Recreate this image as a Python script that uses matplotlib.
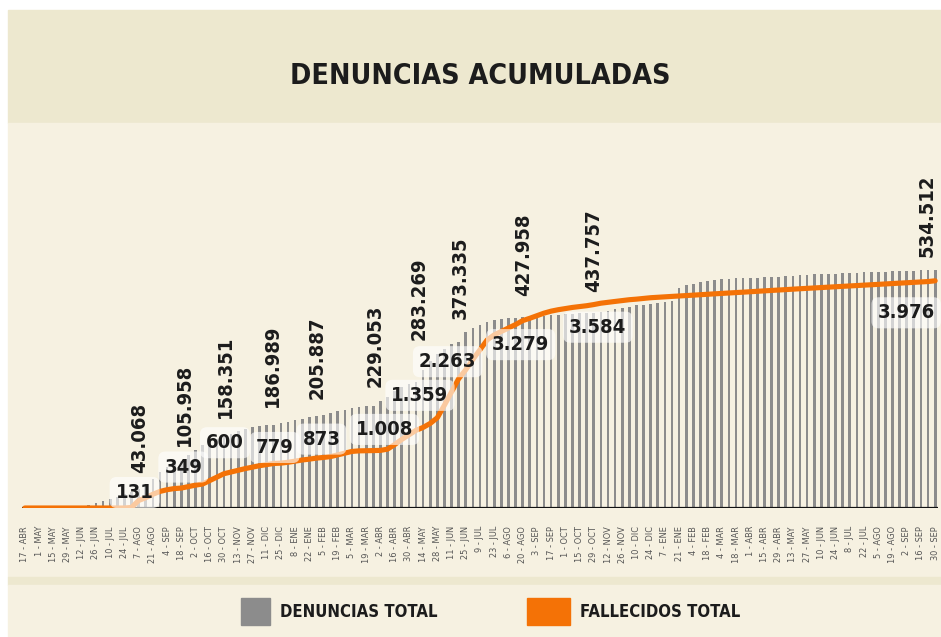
import matplotlib
matplotlib.use('Agg')
import matplotlib.pyplot as plt
import matplotlib.font_manager as fm
from matplotlib.font_manager import FontProperties
from matplotlib.patches import Rectangle
import numpy as np

# tick labels every second week (weekly data, 17-ABR-2020 .. 30-SEP-2022)
tick_labels = ['17 - ABR', '1 - MAY', '15 - MAY', '29 - MAY', '12 - JUN', '26 - JUN', '10 - JUL', '24 - JUL',
               '7 - AGO', '21 - AGO', '4 - SEP', '18 - SEP', '2 - OCT', '16 - OCT', '30 - OCT', '13 - NOV',
               '27 - NOV', '11 - DIC', '25 - DIC', '8 - ENE', '22 - ENE', '5 - FEB', '19 - FEB', '5 - MAR',
               '19 - MAR', '2 - ABR', '16 - ABR', '30 - ABR', '14 - MAY', '28 - MAY', '11 - JUN', '25 - JUN',
               '9 - JUL', '23 - JUL', '6 - AGO', '20 - AGO', '3 - SEP', '17 - SEP', '1 - OCT', '15 - OCT',
               '29 - OCT', '12 - NOV', '26 - NOV', '10 - DIC', '24 - DIC', '7 - ENE', '21 - ENE', '4 - FEB',
               '18 - FEB', '4 - MAR', '18 - MAR', '1 - ABR', '15 - ABR', '29 - ABR', '13 - MAY', '27 - MAY',
               '10 - JUN', '24 - JUN', '8 - JUL', '22 - JUL', '5 - AGO', '19 - AGO', '2 - SEP', '16 - SEP',
               '30 - SEP']

denuncias = [0, 0, 0, 0, 0, 0, 0, 0, 0, 6700,
             11200, 15700, 20200, 24700, 31400, 37000, 43068, 51000, 66000, 81000,
             92000, 100000, 105958, 118000, 130000, 141000, 149000, 154000, 158351, 166000,
             173000, 178000, 182000, 184000, 185500, 186989, 190000, 194000, 198000, 201000,
             203500, 205887, 210000, 214000, 218000, 221000, 224000, 226000, 228000, 229053,
             240000, 250000, 262000, 272000, 279000, 283269, 310000, 330000, 345000, 358000,
             368000, 373335, 395000, 405000, 412000, 418000, 422000, 425000, 426500, 427500,
             427958, 429500, 431000, 432000, 433000, 434000, 435000, 436000, 437000, 437500,
             437757, 440000, 443000, 446000, 449000, 452000, 455000, 457000, 459000, 461000,
             463000, 466000, 494000, 501000, 504000, 508000, 510000, 511000, 514000, 515000,
             516000, 516500, 517000, 517500, 518000, 518500, 519000, 520000, 521000, 523000,
             524000, 525000, 525500, 526000, 526500, 527000, 527500, 528500, 529500, 530000,
             530500, 531000, 531500, 532000, 532500, 533000, 533500, 534000, 534512]

fallecidos = [0, 0, 0, 0, 0, 0, 0, 0, 0, 0,
              0, 0, 0, 0, 0, 10, 131, 180, 240, 290,
              320, 340, 349, 375, 400, 420, 480, 540, 600, 630,
              660, 690, 715, 740, 760, 779, 785, 800, 820, 840,
              855, 873, 885, 900, 930, 960, 990, 1000, 1002, 1005,
              1008, 1030, 1110, 1200, 1280, 1359, 1410, 1480, 1580, 1800,
              2030, 2263, 2420, 2600, 2770, 2940, 3030, 3090, 3150, 3210,
              3279, 3320, 3365, 3410, 3445, 3470, 3490, 3510, 3525, 3540,
              3560, 3584, 3600, 3615, 3630, 3645, 3655, 3668, 3680, 3688,
              3695, 3703, 3710, 3718, 3725, 3733, 3740, 3748, 3755, 3762,
              3770, 3777, 3785, 3792, 3800, 3807, 3815, 3822, 3830, 3837,
              3844, 3851, 3858, 3865, 3872, 3879, 3886, 3893, 3900, 3907,
              3914, 3921, 3928, 3935, 3942, 3949, 3956, 3963, 3976]

den_label_idx = [16, 22, 28, 35, 41, 49, 55, 61, 70, 80, 128]
fal_label_idx = [16, 22, 28, 35, 41, 50, 55, 61, 70, 81, 128]

# label offsets in pixels (dx, dy)
den_off = [(1, 16), (3, 15), (1, 19), (-1, 18), (1, 17), (2, 19), (3, 42), (2, 23), (1, 21), (0, 21), (-8, 13)]
fal_off = [(-4, 8), (2, 21), (1, 31), (1, 16), (5, 19), (4, 21), (4, 35), (-11, 17), (-2, -24), (-3, -24), (-29, -32)]

GRAY = '#8c8c8c'
ORANGE = '#f47206'
TEXT = '#1c1c1c'


def pick_condensed(want_bold):
    best, best_s = None, -99
    for f in fm.fontManager.ttflist:
        n = (f.name + ' ' + f.fname).lower()
        st = str(f.stretch).lower()
        if not ('condensed' in n or 'narrow' in n or st in ('condensed', 'semi-condensed', 'extra-condensed')):
            continue
        if 'italic' in n or 'oblique' in n or f.style != 'normal':
            continue
        w = f.weight if isinstance(f.weight, int) else {'bold': 700, 'normal': 400, 'regular': 400}.get(str(f.weight), 400)
        s = 0
        if want_bold:
            s += 10 if (w == 700 or 'bold' in n) else 0
        else:
            s += 10 if w == 400 else 0
        if any(k in n for k in ('semibold', 'extrabold', 'black', 'light', 'thin', 'medium')):
            s -= 6
        if any(k in n for k in ('extracondensed', 'extra-condensed', 'ultracondensed', 'semicondensed', 'semi-condensed')):
            s -= 3
        if s > best_s:
            best, best_s = f.fname, s
    return best


bold_path = pick_condensed(True)
reg_path = pick_condensed(False) or bold_path
SCALE = 1.0 if bold_path else 0.82


def fb(size):
    if bold_path:
        return FontProperties(fname=bold_path, size=size)
    return FontProperties(family='Liberation Sans', weight='bold', size=size * SCALE)


def fr(size):
    if reg_path:
        return FontProperties(fname=reg_path, size=size)
    return FontProperties(family='Liberation Sans', size=size * SCALE)


def fmt(v):
    return f'{v:,}'.replace(',', '.')


W, H = 941, 637
fig = plt.figure(figsize=(W / 100, H / 100), dpi=100)
fig.patch.set_facecolor('white')


def band(y0, y1, color):
    fig.patches.append(Rectangle((8 / W, 1 - y1 / H), 1 - 8 / W, (y1 - y0) / H,
                                 transform=fig.transFigure, color=color, zorder=-10))


band(10, 123, '#ede8cf')
band(123, 577, '#f6f1e1')
band(577, 585, '#ede8cf')
band(585, 637, '#f6f1e1')

fig.text(480 / W, 1 - 76 / H, 'DENUNCIAS ACUMULADAS', ha='center', va='center',
         fontproperties=fb(20.5), color=TEXT)

ax = fig.add_axes([22 / W, 1 - 508 / H, 916 / W, (508 - 130) / H])
ax.set_facecolor('none')
x = np.arange(len(denuncias))
ax.bar(x, denuncias, width=0.38, color=GRAY, zorder=2)
ax.set_xlim(-0.4, 128.4)
ax.set_ylim(0, 849000)
ax.axhline(0, color='#111111', lw=1.6, zorder=5)
for s in ax.spines.values():
    s.set_visible(False)
ax.set_yticks([])
ax.set_xticks(x[::2])
ax.set_xticklabels(tick_labels, rotation=90, color='#555555')
for t in ax.get_xticklabels():
    t.set_fontproperties(fr(6.6))
ax.tick_params(axis='x', length=0, pad=13)

for i, (dx, dy) in zip(den_label_idx, den_off):
    ax.annotate(fmt(denuncias[i]), xy=(i, denuncias[i]), xytext=(dx, dy), textcoords='offset pixels',
                rotation=90, ha='center', va='bottom', fontproperties=fb(14.5), color=TEXT,
                zorder=6, annotation_clip=False)

ax2 = ax.twinx()
ax2.set_ylim(0, 6615)
ax2.set_yticks([])
for s in ax2.spines.values():
    s.set_visible(False)
ax2.plot(x, fallecidos, color=ORANGE, lw=3.7, solid_capstyle='round', solid_joinstyle='round', zorder=3)

for i, (dx, dy) in zip(fal_label_idx, fal_off):
    ax2.annotate(fmt(fallecidos[i]), xy=(i, fallecidos[i]), xytext=(dx, dy), textcoords='offset pixels',
                 ha='center', va='center', fontproperties=fb(14.5), color=TEXT, zorder=6,
                 bbox=dict(boxstyle='round,pad=0.3,rounding_size=0.35', fc='white', ec='none', alpha=0.62))

# legend
fig.patches.append(Rectangle((241 / W, 1 - 625 / H), 29 / W, 27 / H, transform=fig.transFigure,
                             color=GRAY, zorder=5))
fig.text(280 / W, 1 - 612 / H, 'DENUNCIAS TOTAL', ha='left', va='center', fontproperties=fb(12), color=TEXT)
fig.patches.append(Rectangle((527 / W, 1 - 625 / H), 43 / W, 27 / H, transform=fig.transFigure,
                             color=ORANGE, zorder=5))
fig.text(580 / W, 1 - 612 / H, 'FALLECIDOS TOTAL', ha='left', va='center', fontproperties=fb(12), color=TEXT)

fig.savefig('out.png', dpi=100, facecolor=fig.get_facecolor())
